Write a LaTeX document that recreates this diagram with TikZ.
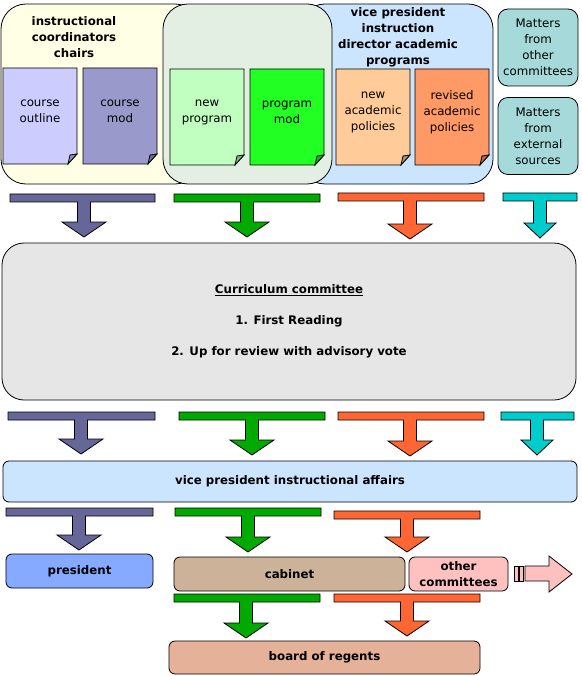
\documentclass[tikz,border=0pt]{standalone}
\usepackage{fontspec}
\setmainfont{DejaVu Sans}
\usepackage{xcolor}
\definecolor{grpyellow}{HTML}{FFFFE6}
\definecolor{grpgreen}{HTML}{E4EFE4}
\definecolor{grpblue}{HTML}{CCE5FF}
\definecolor{matters}{HTML}{A6DADA}
\definecolor{outlinefill}{HTML}{CCCCFF}
\definecolor{cmodfill}{HTML}{9999CC}
\definecolor{newprogfill}{HTML}{C0FFC0}
\definecolor{progmodfill}{HTML}{22FF22}
\definecolor{newpolfill}{HTML}{FFCC99}
\definecolor{revpolfill}{HTML}{FF9966}
\definecolor{tpurple}{HTML}{666699}
\definecolor{tgreen}{HTML}{00AA00}
\definecolor{torange}{HTML}{FF6633}
\definecolor{tteal}{HTML}{00CCCC}
\definecolor{ccgray}{HTML}{E6E6E6}
\definecolor{presblue}{HTML}{85AAFF}
\definecolor{cabtan}{HTML}{CCB299}
\definecolor{otherpink}{HTML}{FFC0C0}
\definecolor{boardtan}{HTML}{E5B299}
% T shaped block arrow: [head half width]{colour}{bar left}{bar right}{bar top}{centre}{tip}
\newcommand{\tarrow}[7][22]{%
  \draw[fill=#2] (#3,#5) -- (#4,#5) -- (#4,#5+8) -- (#6+6.5,#5+8) -- (#6+6.5,#7-15)
    -- (#6+#1,#7-15) -- (#6,#7) -- (#6-#1,#7-15) -- (#6-6.5,#7-15) -- (#6-6.5,#5+8)
    -- (#3,#5+8) -- cycle;}
% page with dog ear: {name}{left}{top}{fill}{text}
\newcommand{\docpage}[5]{%
  \draw[fill=#4] (#2,#3) -- ++(74,0) -- ++(0,86) -- ++(-9,10) -- ++(-65,0) -- cycle;
  \draw[fill=#4!70!black] (#2+74,#3+86) -- (#2+65,#3+96) -- (#2+67,#3+87) -- cycle;
  \node[doctext] (#1) at (#2+37,#3+43) {#5};}
\tikzset{
  grp/.style={draw, rounded corners=25},
  doctext/.style={align=center, inner sep=0},
  grouptitle/.style={align=center, font=\fontsize{11.8}{16}\selectfont\bfseries, inner sep=0},
  matterbox/.style={draw, fill=matters, rounded corners=10, align=center,
    minimum width=80, minimum height=77, inner sep=0},
  bar/.style={draw, rounded corners=6, font=\fontsize{11.8}{16}\selectfont\bfseries, align=center, inner sep=0},
}
\begin{document}
\begin{tikzpicture}[x=1pt, y=-1pt, line width=0.8pt,
  every node/.style={font=\fontsize{11.8}{16}\selectfont}]
\useasboundingbox (0,0) rectangle (581,676);
% source groups
\draw[grp, fill=grpyellow] (1,4) rectangle (200,184);
\draw[grp, fill=grpblue] (300,4) rectangle (493,184);
\draw[grp, fill=grpgreen] (163,4) rectangle (332,184);
\node[grouptitle] (coordttl) at (74,37) {instructional\\coordinators\\chairs};
\node[grouptitle] (vpttl) at (398,37) {vice president\\instruction\\director academic\\programs};
\docpage{outline}{3}{68}{outlinefill}{course\\outline}
\docpage{coursemod}{83}{68}{cmodfill}{course\\mod}
\docpage{newprog}{170}{69}{newprogfill}{new\\program}
\docpage{progmod}{250}{69}{progmodfill}{program\\mod}
\docpage{newpol}{336}{69}{newpolfill}{new\\academic\\policies}
\docpage{revpol}{415}{69}{revpolfill}{revised\\academic\\policies}
\node[matterbox] (othermat) at (538,47.5) {Matters\\from\\other\\committees};
\node[matterbox] (extmat) at (538,136) {Matters\\from\\external\\sources};
% first row
\tarrow{tpurple}{10}{155}{194}{84}{237}
\tarrow{tgreen}{174}{320}{194}{247}{237}
\tarrow{torange}{338}{484}{193}{410}{239}
\tarrow[16]{tteal}{503}{577}{193}{540}{238}
\node[bar, fill=ccgray, rounded corners=22, minimum width=574, minimum height=157] (curric) at (289,321.5) {\underline{Curriculum committee}\\[15pt]1. First Reading\\[15pt]2. Up for review with advisory vote};
% second row
\tarrow{tpurple}{8}{155}{412}{81}{454}
\tarrow{tgreen}{179}{325}{412}{252}{455}
\tarrow{torange}{338}{484}{412}{410}{456}
\tarrow[16]{tteal}{501}{574}{412}{537}{455}
\node[bar, fill=grpblue, minimum width=574, minimum height=41] (vpia) at (290,481.5) {vice president instructional affairs};
% third row
\tarrow{tpurple}{6}{153}{508}{79}{550}
\tarrow{tgreen}{175}{321}{508}{248}{552}
\tarrow{torange}{334}{480}{511}{407}{552}
\node[bar, fill=presblue, minimum width=147, minimum height=34] (pres) at (79.5,571) {president};
\node[bar, fill=cabtan, minimum width=231, minimum height=34] (cabinet) at (289.5,574) {cabinet};
\node[bar, fill=otherpink, minimum width=99, minimum height=34] (othercom) at (458.5,574) {other\\committees};
\draw[fill=otherpink] (514,566) rectangle (518,581);
\draw[fill=otherpink] (519,566) rectangle (523,581);
\draw[fill=otherpink] (525,566) -- (549,566) -- (549,556) -- (572,574) -- (549,592) -- (549,581) -- (525,581) -- cycle;
% fourth row
\tarrow{tgreen}{174}{320}{594}{246}{638}
\tarrow{torange}{334}{480}{594}{407}{636}
\node[bar, fill=boardtan, minimum width=311, minimum height=33] (board) at (324.5,657.5) {board of regents};
\end{tikzpicture}
\end{document}
